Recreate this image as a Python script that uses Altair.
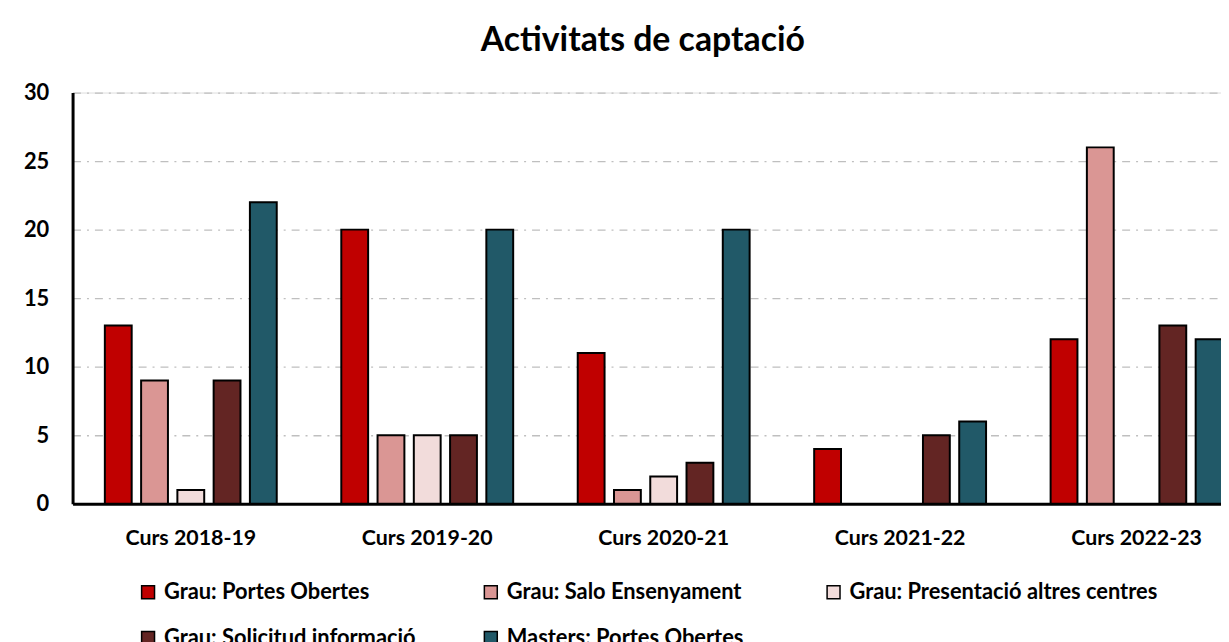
import altair as alt
import pandas as pd

cursos = ["Curs 2018-19", "Curs 2019-20", "Curs 2020-21", "Curs 2021-22", "Curs 2022-23"]
series = [
    "Grau: Portes Obertes",
    "Grau: Salo Ensenyament",
    "Grau: Presentació altres centres",
    "Grau: Solicitud informació",
    "Masters: Portes Obertes",
]
portes_obertes = [13, 20, 11, 4, 12]
salo_ensenyament = [9, 5, 1, 0, 26]
presentacio = [1, 5, 2, 0, 0]
solicitud = [9, 5, 3, 5, 13]
masters = [22, 20, 20, 6, 12]
colors = ["#C00000", "#DA9694", "#F2DCDB", "#632523", "#215968"]
y_ticks = [0, 5, 10, 15, 20, 25, 30]

rows = []
for s, vals in zip(series, [portes_obertes, salo_ensenyament, presentacio, solicitud, masters]):
    for c, v in zip(cursos, vals):
        rows.append({"curs": c, "serie": s, "valor": v})
df = pd.DataFrame(rows)

FONT = "Lato"

chart = alt.Chart(df).transform_filter("datum.valor > 0").mark_bar(stroke="black", strokeWidth=2).encode(
    x=alt.X(
        "curs:N", sort=cursos, title=None,
        scale=alt.Scale(domain=cursos, range=[0, 1190], paddingInner=0.273, paddingOuter=0.1365),
        axis=alt.Axis(labelAngle=0, labelFont=FONT, labelFontSize=21.5, labelFontWeight="bold",
                      labelColor="black", labelPadding=24, ticks=False, tickSize=0,
                      domainColor="black", domainWidth=3, grid=False),
    ),
    xOffset=alt.XOffset("serie:N", sort=series,
                        scale=alt.Scale(domain=series, paddingInner=0.26, paddingOuter=0)),
    y=alt.Y(
        "valor:Q", title=None,
        scale=alt.Scale(domain=[0, 30], nice=False),
        axis=alt.Axis(values=y_ticks, labelFont=FONT, labelFontSize=22, labelFontWeight="bold",
                      labelColor="black", labelPadding=24, ticks=False, tickSize=0,
                      domainColor="black", domainWidth=3,
                      gridColor="#BFBFBF", gridDash=[8, 6, 2, 6], gridWidth=1.3),
    ),
    color=alt.Color(
        "serie:N", sort=series,
        scale=alt.Scale(domain=series, range=colors),
        legend=alt.Legend(
            title=None, orient="none", direction="horizontal", legendX=65, legendY=492,
            columns=3, gridAlign="all",
            columnPadding=7, rowPadding=24, symbolType="square", symbolSize=169,
            symbolStrokeColor="black", symbolStrokeWidth=1.5, labelFont=FONT, labelFontSize=22,
            labelFontWeight="bold", labelColor="black", labelOffset=5, labelLimit=500, padding=0,
        ),
    ),
).properties(
    width=1156, height=414,
    autosize=alt.AutoSizeParams(type="none"),
    padding={"left": 65, "top": 83, "right": 0, "bottom": 137},
    title=alt.Title("Activitats de captació", font=FONT, fontSize=34, fontWeight="bold",
                    color="black", anchor="middle", dx=-4, offset=24),
).configure_view(stroke=None).configure(background="white")

chart.save("out.html", embed_options={"renderer": "svg", "actions": False})
